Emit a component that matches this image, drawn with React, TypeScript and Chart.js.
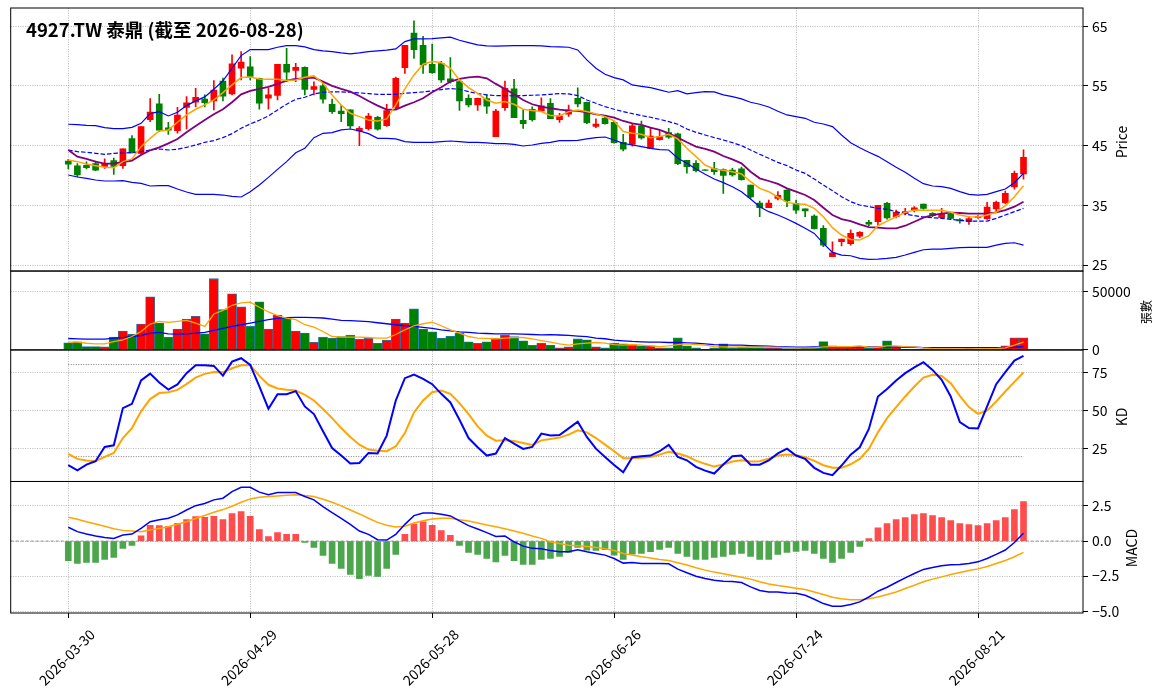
import { useEffect, useRef } from 'react';
import { Chart, registerables } from 'chart.js';

Chart.register(...registerables);

const FONT = '"Noto Sans CJK TC", "Noto Sans CJK SC", "Noto Sans", sans-serif';

// ---- categories (trading days) ----
const START_DATE = '2026-03-30';
const HOLIDAYS = ['2026-04-03', '2026-04-06', '2026-05-01', '2026-06-19'];
const N_BARS = 106;
function tradingDates(): string[] {
  const out: string[] = [];
  const d = new Date(START_DATE + 'T00:00:00Z');
  while (out.length < N_BARS) {
    const day = d.getUTCDay();
    const s = d.toISOString().slice(0, 10);
    if (day !== 0 && day !== 6 && !HOLIDAYS.includes(s)) out.push(s);
    d.setUTCDate(d.getUTCDate() + 1);
  }
  return out;
}
const DATES = tradingDates();
const TICK_EVERY = 20;

// ---- price ----
const OPEN = [
  42.4, 41.6, 41.7, 42.0, 41.5, 42.5, 41.65, 46.2, 43.7, 49.36,
  52.0, 48.0, 47.5, 51.4, 52.26, 52.8, 52.5, 55.8, 53.66, 57.96,
  58.2, 56.28, 52.93, 53.4, 58.63, 57.6, 58.1, 54.4, 55.0, 51.9,
  50.8, 51.0, 47.46, 47.85, 49.75, 48.35, 51.37, 58.07, 63.83, 61.8,
  58.6, 58.74, 56.2, 55.73, 52.93, 51.8, 52.9, 46.5, 51.37, 54.5,
  49.25, 51.1, 50.8, 52.1, 49.36, 50.25, 52.93, 52.26, 48.2, 49.6,
  48.9, 45.56, 45.22, 48.3, 44.55, 46.0, 47.2, 46.96, 42.54, 42.04,
  40.95, 41.15, 41.0, 40.9, 41.1, 38.4, 35.4, 34.6, 36.17, 37.57,
  35.34, 34.4, 33.2, 31.15, 26.4, 28.9, 28.6, 29.86, 32.15, 32.26,
  35.34, 33.1, 33.6, 34.2, 35.2, 33.66, 32.93, 33.5, 32.6, 32.26,
  32.95, 32.77, 34.4, 35.45, 38.1, 40.25,
];
const HIGH = [
  42.7, 42.0, 42.3, 42.4, 42.8, 42.9, 44.45, 46.7, 48.2, 52.9,
  53.6, 48.9, 51.4, 53.2, 54.6, 53.5, 55.9, 56.3, 60.2, 60.75,
  59.9, 56.3, 54.6, 58.6, 61.3, 58.8, 58.2, 55.7, 55.7, 52.8,
  51.7, 51.0, 48.2, 50.4, 49.9, 51.9, 56.5, 61.8, 65.9, 63.3,
  62.0, 59.1, 59.75, 56.0, 53.5, 52.95, 53.5, 51.1, 55.8, 56.1,
  51.1, 51.5, 53.0, 52.9, 50.4, 51.8, 54.7, 52.3, 49.5, 49.9,
  49.1, 46.9, 48.7, 49.1, 47.9, 47.6, 47.9, 47.1, 42.54, 42.5,
  40.95, 42.2, 41.1, 41.2, 41.4, 38.4, 35.7, 35.9, 37.3, 37.6,
  35.9, 34.4, 33.4, 31.6, 28.9, 29.36, 30.9, 30.6, 32.5, 35.0,
  35.5, 34.2, 34.5, 34.8, 35.2, 33.8, 34.5, 33.66, 32.8, 33.1,
  33.3, 35.5, 35.7, 37.4, 40.75, 44.3,
];
const LOW = [
  41.1, 39.8, 41.1, 40.8, 41.2, 40.2, 41.2, 43.8, 43.5, 49.0,
  47.35, 46.9, 47.1, 47.8, 51.5, 51.5, 51.0, 52.5, 53.5, 56.0,
  56.0, 51.1, 51.1, 52.65, 55.7, 55.7, 53.5, 53.5, 52.1, 50.4,
  49.0, 47.9, 45.0, 47.6, 47.6, 48.2, 51.1, 57.1, 59.6, 57.1,
  57.1, 55.6, 55.45, 50.9, 51.5, 50.9, 50.4, 46.5, 50.9, 49.7,
  47.9, 49.1, 50.7, 49.5, 48.9, 49.9, 51.5, 48.7, 48.0, 48.6,
  45.4, 44.1, 44.9, 46.1, 44.55, 45.9, 46.2, 41.8, 40.4, 40.6,
  40.85, 40.2, 37.0, 39.9, 39.2, 36.2, 33.1, 34.6, 35.9, 34.8,
  33.66, 33.1, 31.0, 28.1, 26.4, 28.2, 28.35, 29.6, 31.6, 31.6,
  32.7, 32.9, 33.4, 33.9, 34.3, 33.1, 32.8, 32.7, 32.0, 31.8,
  32.8, 32.65, 33.9, 35.3, 37.7, 39.4,
];
const CLOSE = [
  41.9, 40.1, 41.3, 40.9, 42.0, 41.5, 44.45, 43.8, 48.2, 50.64,
  47.6, 47.6, 50.1, 52.15, 53.1, 52.2, 54.3, 53.3, 58.7, 59.0,
  56.6, 52.1, 53.49, 58.6, 57.3, 58.1, 54.4, 54.9, 52.77, 50.7,
  50.36, 48.3, 47.9, 49.97, 47.74, 50.87, 56.28, 61.8, 61.09, 58.5,
  57.2, 56.0, 55.7, 52.49, 51.8, 52.93, 51.6, 50.8, 54.6, 49.7,
  48.7, 49.36, 51.65, 49.5, 49.97, 51.0, 51.98, 48.85, 48.6, 48.7,
  45.5, 44.4, 48.3, 46.3, 46.6, 46.5, 46.4, 41.98, 41.48, 40.8,
  40.85, 40.65, 40.0, 40.1, 39.3, 36.4, 34.6, 35.4, 36.68, 35.73,
  34.2, 34.05, 31.1, 28.35, 27.07, 29.36, 30.3, 30.47, 31.87, 35.0,
  32.9, 33.83, 33.94, 34.6, 34.5, 33.27, 33.5, 32.8, 32.4, 32.8,
  33.1, 34.7, 35.5, 37.0, 40.36, 43.04,
];
const MA5 = [
  42.60, 42.32, 41.93, 41.65, 41.37, 41.31, 42.32, 42.77, 44.83, 46.23,
  47.46, 47.63, 48.91, 50.14, 51.09, 51.82, 52.65, 53.88, 55.17, 56.40,
  56.51, 56.17, 56.12, 56.12, 55.89, 56.01, 56.45, 56.68, 55.45, 53.49,
  51.82, 50.42, 49.86, 49.30, 49.13, 49.47, 51.82, 54.50, 56.84, 58.63,
  59.08, 58.91, 57.96, 56.01, 54.72, 53.77, 52.65, 52.09, 52.37, 51.93,
  51.09, 50.87, 50.70, 50.03, 49.97, 50.70, 50.98, 50.70, 50.31, 49.86,
  49.13, 47.35, 47.07, 46.90, 46.34, 46.51, 46.90, 46.12, 44.55, 43.16,
  41.76, 41.09, 40.87, 40.64, 40.25, 38.97, 37.85, 37.29, 36.40, 35.50,
  35.28, 35.17, 34.50, 33.10, 31.26, 30.03, 29.30, 29.19, 29.92, 31.59,
  32.37, 33.10, 33.83, 34.22, 34.16, 34.16, 34.16, 33.83, 33.38, 33.10,
  33.04, 33.38, 33.83, 34.94, 36.45, 38.30,
];
const MA10 = [
  44.27, 43.16, 42.77, 42.32, 41.98, 41.98, 42.26, 42.49, 43.44, 44.22,
  44.72, 45.39, 46.12, 47.23, 48.30, 49.30, 50.25, 51.09, 52.26, 53.60,
  54.16, 54.50, 54.83, 55.34, 55.89, 56.17, 56.28, 56.40, 55.73, 55.00,
  54.50, 54.05, 53.32, 52.49, 51.70, 51.03, 51.03, 51.70, 52.26, 52.93,
  53.94, 54.78, 55.73, 56.17, 56.45, 56.56, 56.28, 55.34, 54.50, 53.60,
  52.65, 51.93, 51.54, 51.26, 51.03, 50.87, 50.81, 50.59, 50.25, 50.03,
  49.69, 49.13, 48.74, 48.46, 48.02, 47.63, 47.07, 46.34, 45.56, 44.83,
  44.44, 43.99, 43.27, 42.71, 42.04, 40.64, 39.53, 39.08, 38.60, 37.85,
  37.29, 36.73, 35.89, 34.61, 33.38, 32.71, 32.37, 31.82, 31.37, 31.26,
  31.15, 31.15, 31.59, 32.26, 32.93, 33.38, 33.60, 33.77, 33.72, 33.60,
  33.60, 33.60, 33.83, 34.22, 34.78, 35.61,
];
const BB_UP = [
  48.58, 48.52, 48.41, 48.35, 48.02, 47.85, 47.85, 48.07, 48.74, 50.36,
  50.70, 49.97, 50.59, 51.70, 52.49, 53.16, 54.44, 55.84, 57.96, 60.08,
  61.09, 61.09, 61.09, 61.48, 61.76, 61.76, 61.54, 61.09, 60.87, 60.75,
  60.53, 60.36, 60.53, 60.75, 60.87, 60.98, 61.20, 62.43, 62.88, 62.88,
  62.93, 63.04, 63.16, 62.65, 62.26, 61.87, 61.70, 61.65, 61.70, 61.76,
  61.76, 61.76, 61.70, 61.59, 61.54, 61.48, 61.03, 59.36, 57.96, 56.96,
  56.40, 56.01, 55.17, 54.94, 54.72, 54.33, 53.94, 54.22, 53.66, 53.88,
  54.05, 53.99, 53.49, 53.21, 52.82, 52.26, 51.93, 51.48, 50.75, 50.14,
  49.86, 49.58, 48.91, 48.63, 48.18, 46.79, 45.50, 44.66, 43.88, 43.21,
  42.32, 41.37, 40.53, 39.53, 38.63, 38.24, 38.13, 37.85, 37.29, 36.84,
  36.73, 36.84, 37.29, 37.74, 38.80, 40.36,
];
const BB_MID = [
  44.27, 43.99, 43.88, 43.72, 43.55, 43.72, 43.77, 43.83, 43.99, 44.27,
  44.44, 44.27, 44.39, 44.72, 45.11, 45.56, 45.84, 46.34, 47.01, 47.91,
  48.63, 49.25, 49.97, 50.98, 51.93, 52.77, 53.10, 53.66, 53.94, 53.99,
  53.99, 53.94, 53.83, 53.72, 53.60, 53.60, 53.60, 53.77, 53.88, 53.99,
  54.16, 54.39, 54.55, 54.44, 54.05, 53.72, 53.49, 53.38, 53.38, 53.32,
  53.38, 53.44, 53.49, 53.60, 53.72, 53.66, 53.38, 52.65, 52.09, 51.54,
  51.09, 50.70, 50.36, 50.03, 49.75, 49.41, 49.02, 48.58, 47.79, 47.23,
  46.79, 46.34, 45.95, 45.50, 45.00, 44.27, 43.55, 42.88, 42.20, 41.65,
  40.92, 40.36, 39.41, 38.41, 37.46, 36.45, 35.61, 35.06, 34.78, 34.50,
  34.33, 33.94, 33.55, 33.27, 33.04, 32.93, 32.82, 32.65, 32.49, 32.37,
  32.37, 32.37, 32.82, 33.38, 33.94, 34.50,
];
const BB_LOW = [
  40.08, 39.75, 39.53, 39.25, 39.08, 39.08, 39.13, 38.85, 38.69, 38.24,
  38.30, 38.30, 37.74, 37.23, 36.84, 36.84, 36.84, 36.73, 36.51, 36.40,
  37.29, 38.41, 39.69, 41.03, 42.32, 43.80, 44.55, 46.34, 47.07, 47.18,
  47.63, 47.79, 47.46, 47.01, 46.23, 46.23, 46.12, 45.67, 45.56, 45.56,
  45.56, 45.67, 45.78, 45.67, 45.56, 45.56, 45.45, 45.34, 45.34, 45.22,
  44.94, 45.11, 45.39, 45.56, 45.84, 45.84, 45.89, 46.12, 46.34, 46.45,
  45.95, 45.39, 45.11, 44.83, 44.55, 44.33, 44.27, 42.88, 42.04, 41.09,
  40.20, 39.41, 38.80, 38.13, 37.29, 36.06, 34.78, 33.94, 33.38, 32.71,
  31.98, 31.15, 30.31, 28.63, 27.12, 26.68, 26.56, 26.12, 25.95, 26.01,
  26.12, 26.28, 26.68, 27.12, 27.57, 27.68, 27.68, 27.79, 27.91, 27.96,
  27.96, 27.96, 28.35, 28.63, 28.74, 28.35,
];

// ---- volume (張) ----
const VOLUME = [
  6070, 6940, 2890, 2890, 2600, 10980, 16180, 13580, 22250, 45660,
  23120, 10980, 17920, 26590, 28900, 13870, 61270, 34680, 48260, 36990,
  20230, 41330, 17920, 30060, 27460, 16180, 14450, 6650, 10980, 10120,
  11560, 12720, 9250, 10120, 5780, 8380, 26590, 23120, 35260, 17920,
  15610, 10120, 11850, 14450, 6940, 5780, 6940, 10120, 12720, 11560,
  7800, 4050, 5780, 4090, 1750, 2630, 9640, 8760, 2630, 1750,
  5840, 5260, 4090, 3500, 3500, 1750, 1750, 10510, 3500, 1750,
  600, 1750, 5260, 1750, 2340, 2920, 2920, 1750, 1750, 1170,
  1170, 1750, 2340, 7300, 3500, 2340, 2340, 2340, 1750, 2340,
  7880, 2340, 580, 580, 580, 580, 580, 580, 580, 1170,
  580, 1170, 1170, 3500, 10510, 10510,
];
const VOL_MA5 = [
  6650, 6650, 5780, 5200, 5200, 7230, 8670, 11560, 15900, 22250,
  24570, 23700, 24570, 25430, 23120, 20230, 30920, 34100, 38440, 40460,
  41040, 36700, 32660, 29480, 27460, 26010, 21680, 19650, 15900, 11560,
  10980, 10980, 10980, 10690, 10120, 10120, 13290, 17340, 20810, 22540,
  23990, 20810, 17340, 14450, 11560, 10120, 9830, 9540, 10120, 10690,
  10690, 9540, 8090, 6720, 5260, 4090, 5260, 5840, 6420, 5840,
  4670, 4090, 4670, 4090, 3500, 2920, 3500, 4670, 5260, 4670,
  4090, 2920, 2630, 2340, 2630, 2340, 2340, 2340, 2340, 2040,
  1750, 1750, 1750, 2630, 2920, 2920, 2920, 3500, 2340, 2340,
  3500, 3500, 2920, 2630, 1750, 1170, 880, 880, 880, 880,
  880, 1170, 1170, 1750, 4090, 6720,
];
const VOL_MA20 = [
  9830, 9540, 9250, 9250, 9250, 10120, 10690, 11560, 12430, 14450,
  15030, 13870, 13580, 13870, 14450, 15030, 16760, 18500, 20230, 21680,
  23120, 24570, 26010, 27170, 27740, 28030, 28030, 27740, 27460, 26590,
  25430, 25140, 24850, 24280, 23410, 22540, 21680, 20810, 20230, 19360,
  18500, 17340, 16470, 15610, 15030, 14450, 14160, 13870, 13870, 13870,
  13580, 13290, 13000, 13140, 12850, 12560, 11970, 11390, 10220, 9640,
  8470, 7880, 7300, 7010, 6720, 6720, 6420, 6420, 6130, 5840,
  5260, 4670, 4380, 4090, 4090, 3800, 3500, 3210, 2920, 2630,
  2340, 2340, 2630, 2630, 2630, 2630, 2630, 2630, 2630, 2630,
  2630, 2630, 2340, 2340, 2040, 2040, 2040, 2040, 2040, 2040,
  2040, 2040, 2040, 2040, 2340, 2920,
];

// ---- KD ----
const K_LINE = [
  14.4, 11.1, 14.8, 17.0, 26.3, 27.4, 51.6, 54.4, 69.6, 74.1,
  68.3, 63.7, 67.0, 74.4, 79.5, 79.5, 79.1, 72.8, 81.9, 84.1,
  79.8, 65.7, 51.2, 60.7, 60.7, 62.7, 52.7, 47.7, 36.5, 25.6,
  20.7, 15.5, 15.9, 22.4, 22.0, 33.7, 56.6, 71.1, 73.5, 70.7,
  67.2, 60.9, 55.3, 44.0, 32.1, 26.1, 20.7, 22.0, 32.1, 28.5,
  25.0, 26.3, 35.0, 33.7, 34.1, 38.4, 42.7, 32.8, 25.2, 19.8,
  14.6, 9.8, 19.6, 20.2, 20.7, 23.5, 27.6, 19.8, 17.6, 13.3,
  10.9, 9.0, 14.8, 20.2, 20.7, 14.7, 14.7, 17.6, 22.1, 25.2,
  20.7, 18.5, 12.7, 9.4, 7.9, 14.2, 21.3, 26.1, 38.0, 59.2,
  64.0, 69.6, 74.4, 78.2, 81.5, 76.5, 70.0, 59.2, 42.5, 38.6,
  38.4, 52.7, 67.2, 75.0, 82.6, 85.6,
];
const D_LINE = [
  21.8, 18.5, 17.4, 17.0, 19.8, 22.4, 32.1, 38.6, 49.5, 57.5,
  61.4, 62.0, 63.5, 67.2, 71.5, 73.9, 75.2, 75.0, 77.6, 79.5,
  79.5, 72.6, 66.8, 64.4, 63.5, 63.1, 60.3, 56.6, 51.0, 45.1,
  38.6, 32.8, 27.8, 24.6, 23.9, 23.5, 26.7, 35.4, 48.8, 56.6,
  62.0, 63.1, 60.9, 54.9, 47.7, 39.7, 33.7, 30.4, 30.6, 30.2,
  28.9, 27.6, 30.6, 31.5, 32.4, 34.3, 37.1, 35.8, 32.1, 27.8,
  23.5, 19.0, 19.0, 19.2, 19.8, 21.3, 23.1, 22.0, 20.2, 17.4,
  15.3, 13.5, 14.8, 16.8, 17.6, 16.8, 17.0, 18.7, 20.7, 21.3,
  20.9, 19.6, 17.2, 14.4, 12.7, 12.7, 15.0, 18.5, 25.0, 35.8,
  45.1, 52.3, 59.2, 65.7, 71.5, 73.3, 72.6, 67.9, 59.6, 52.3,
  47.9, 49.9, 55.9, 62.4, 68.7, 74.8,
];
const KD_LEVELS = [80, 20];

// ---- MACD ----
const DIF = [
  0.98, 0.67, 0.50, 0.36, 0.26, 0.19, 0.43, 0.50, 0.90, 1.38,
  1.52, 1.62, 1.86, 2.21, 2.52, 2.67, 2.93, 3.05, 3.52, 3.83,
  3.83, 3.48, 3.29, 3.45, 3.45, 3.45, 3.17, 2.93, 2.45, 2.02,
  1.62, 1.19, 0.71, 0.48, 0.10, 0.07, 0.48, 1.19, 1.81, 2.00,
  2.00, 1.90, 1.79, 1.43, 1.10, 0.86, 0.60, 0.33, 0.36, -0.05,
  -0.36, -0.52, -0.55, -0.68, -0.76, -0.76, -0.62, -0.76, -0.88, -1.00,
  -1.24, -1.57, -1.52, -1.60, -1.60, -1.60, -1.62, -2.00, -2.26, -2.50,
  -2.67, -2.79, -2.86, -2.88, -2.95, -3.26, -3.52, -3.62, -3.62, -3.69,
  -3.71, -3.86, -4.14, -4.45, -4.64, -4.64, -4.52, -4.33, -3.98, -3.57,
  -3.29, -2.95, -2.62, -2.31, -2.02, -1.88, -1.76, -1.69, -1.67, -1.60,
  -1.48, -1.24, -0.95, -0.64, -0.10, 0.55,
];
const DEA = [
  1.69, 1.55, 1.38, 1.21, 1.05, 0.88, 0.76, 0.71, 0.67, 0.79,
  0.90, 1.02, 1.19, 1.38, 1.60, 1.82, 2.05, 2.24, 2.48, 2.76,
  3.00, 3.12, 3.17, 3.21, 3.26, 3.29, 3.24, 3.17, 2.98, 2.76,
  2.50, 2.21, 1.93, 1.62, 1.33, 1.12, 1.00, 1.05, 1.29, 1.45,
  1.57, 1.62, 1.62, 1.52, 1.43, 1.29, 1.14, 1.02, 0.88, 0.71,
  0.55, 0.36, 0.19, -0.05, -0.18, -0.29, -0.33, -0.38, -0.45, -0.55,
  -0.67, -0.88, -1.00, -1.12, -1.21, -1.31, -1.38, -1.55, -1.71, -1.90,
  -2.07, -2.21, -2.33, -2.45, -2.57, -2.71, -2.90, -3.05, -3.17, -3.26,
  -3.36, -3.45, -3.62, -3.81, -4.00, -4.10, -4.17, -4.17, -4.10, -3.98,
  -3.81, -3.62, -3.38, -3.14, -2.90, -2.71, -2.55, -2.38, -2.24, -2.10,
  -1.98, -1.81, -1.60, -1.38, -1.12, -0.81,
];
const HIST = [
  -1.40, -1.60, -1.52, -1.52, -1.31, -1.17, -0.52, -0.31, 0.38, 1.12,
  1.10, 1.05, 1.26, 1.52, 1.74, 1.69, 1.76, 1.52, 1.95, 2.10,
  1.76, 0.81, 0.31, 0.60, 0.48, 0.48, -0.10, -0.45, -1.02, -1.60,
  -1.95, -2.38, -2.67, -2.45, -2.52, -1.95, -0.95, 0.48, 1.21, 1.36,
  1.12, 0.74, 0.40, -0.31, -0.81, -0.95, -1.24, -1.48, -1.02, -1.40,
  -1.67, -1.67, -1.31, -1.24, -1.10, -0.81, -0.45, -0.64, -0.67, -0.62,
  -1.00, -1.31, -0.93, -0.88, -0.76, -0.60, -0.45, -0.88, -1.10, -1.31,
  -1.31, -1.17, -1.10, -0.95, -0.88, -1.10, -1.31, -1.31, -0.95, -0.81,
  -0.74, -0.67, -0.88, -1.24, -1.52, -1.24, -0.81, -0.38, 0.17, 0.95,
  1.24, 1.52, 1.67, 1.88, 1.95, 1.81, 1.67, 1.45, 1.24, 1.17,
  1.10, 1.24, 1.45, 1.67, 2.24, 2.81,
];

// ---- axis ticks ----
const PRICE_TICKS = [25, 30, 35, 40, 45, 50, 55, 60, 65];
const VOL_TICKS = [0, 50000];
const KD_TICKS = [25, 50, 75];
const MACD_TICKS = [-5, -2.5, 0, 2.5];

const TITLE = `4927.TW 泰鼎 (截至 ${DATES[DATES.length - 1]})`;

// ---- layout / style ----
const W = 1163;
const H = 698;
const X_MIN = -6.33;
const X_MAX = 111.54;
const RED = '#ff0000';
const GREEN = '#008000';
const BLUE = '#0000ff';
const ORANGE = '#ffa500';
const PURPLE = '#800080';
const GRID = 'rgba(150,150,150,0.85)';

export default function App() {
  const canvasRef = useRef<HTMLCanvasElement | null>(null);

  useEffect(() => {
    const canvas = canvasRef.current;
    if (!canvas) return;
    const idx = DATES.map((_, i) => i);
    const pts = (arr: number[]) => arr.map((y, i) => ({ x: idx[i], y }));
    const up = CLOSE.map((c, i) => c >= OPEN[i]);
    const candleColor = up.map((u) => (u ? RED : GREEN));
    const last = idx[idx.length - 1];

    const line = (data: number[], color: string, width: number, yAxisID: string, dash: number[] = []) => ({
      type: 'line' as const,
      data: pts(data),
      yAxisID,
      xAxisID: 'x',
      borderColor: color,
      borderWidth: width,
      borderDash: dash,
      pointRadius: 0,
      fill: false,
      tension: 0,
    });

    const yAxis = (ticks: number[], weight: number, min: number, max: number, fmt: (v: number) => string) => ({
      type: 'linear' as const,
      position: 'right' as const,
      stack: 'panes',
      stackWeight: weight,
      min,
      max,
      offset: false,
      afterBuildTicks: (s: any) => {
        s.ticks = ticks.map((v) => ({ value: v }));
      },
      afterFit: (s: any) => {
        s.width = 80;
        s.paddingTop = 0;
        s.paddingBottom = 0;
      },
      ticks: {
        callback: (v: any) => fmt(Number(v)),
        color: '#000',
        padding: 4,
        font: { family: FONT, size: 14 },
      },
      grid: {
        color: GRID,
        lineWidth: 0.8,
        tickColor: '#000',
        tickLength: 5,
        tickWidth: 1,
        tickBorderDash: [],
        offset: false,
      },
      border: { display: false, dash: [1, 1.4] },
    });

    const framePlugin = {
      id: 'paneFrames',
      afterDraw(chart: any) {
        const { ctx, chartArea } = chart;
        ctx.save();
        ctx.setLineDash([]);
        ctx.strokeStyle = '#000';
        ctx.lineWidth = 1;
        for (const id of ['yP', 'yV', 'yK', 'yM']) {
          const s = chart.scales[id];
          ctx.strokeRect(chartArea.left, s.top, chartArea.right - chartArea.left, s.bottom - s.top);
        }
        ctx.restore();
      },
    };

    const chart = new Chart(canvas, {
      type: 'line',
      data: {
        datasets: [
          // price pane
          line(MA5, ORANGE, 1.5, 'yP'),
          line(MA10, PURPLE, 1.8, 'yP'),
          line(BB_UP, BLUE, 1.2, 'yP'),
          line(BB_MID, BLUE, 1.2, 'yP', [4.5, 2]),
          line(BB_LOW, BLUE, 1.2, 'yP'),
          {
            type: 'bar',
            yAxisID: 'yP',
            xAxisID: 'x',
            data: idx.map((i) => ({ x: i, y: [Math.min(OPEN[i], CLOSE[i]), Math.max(OPEN[i], CLOSE[i])] })) as any,
            backgroundColor: candleColor,
            borderWidth: 0,
            barThickness: 6,
            grouped: false,
          },
          {
            type: 'bar',
            yAxisID: 'yP',
            xAxisID: 'x',
            data: idx.map((i) => ({ x: i, y: [LOW[i], HIGH[i]] })) as any,
            backgroundColor: candleColor,
            borderWidth: 0,
            barThickness: 1,
            grouped: false,
          },
          // volume pane
          line(VOL_MA5, ORANGE, 1.3, 'yV'),
          line(VOL_MA20, BLUE, 1.3, 'yV'),
          {
            type: 'bar',
            yAxisID: 'yV',
            xAxisID: 'x',
            data: pts(VOLUME) as any,
            backgroundColor: candleColor,
            borderColor: '#1f77b4',
            borderWidth: 0.8,
            barPercentage: 1,
            categoryPercentage: 1,
            grouped: false,
          },
          // KD pane
          line(K_LINE, BLUE, 2, 'yK'),
          line(D_LINE, ORANGE, 2, 'yK'),
          ...KD_LEVELS.map((lv) => ({
            type: 'line' as const,
            yAxisID: 'yK',
            xAxisID: 'x',
            data: [
              { x: idx[0], y: lv },
              { x: last, y: lv },
            ],
            borderColor: 'rgba(110,110,110,0.9)',
            borderWidth: 1,
            borderDash: [1, 1.5],
            pointRadius: 0,
          })),
          // MACD pane
          line(DIF, BLUE, 1.5, 'yM'),
          line(DEA, ORANGE, 1.5, 'yM'),
          {
            type: 'line',
            yAxisID: 'yM',
            xAxisID: 'x',
            data: [
              { x: X_MIN, y: 0 },
              { x: X_MAX, y: 0 },
            ],
            borderColor: 'rgba(128,128,128,0.9)',
            borderWidth: 0.9,
            borderDash: [3, 2],
            pointRadius: 0,
          },
          {
            type: 'bar',
            yAxisID: 'yM',
            xAxisID: 'x',
            data: pts(HIST) as any,
            backgroundColor: HIST.map((v) => (v >= 0 ? 'rgba(255,0,0,0.7)' : 'rgba(0,128,0,0.7)')),
            borderWidth: 0,
            barThickness: 6,
            grouped: false,
          },
        ] as any,
      },
      options: {
        responsive: false,
        animation: false,
        events: [],
        layout: { padding: { left: 10.7, right: 0, top: 8, bottom: 0 } },
        plugins: { legend: { display: false }, tooltip: { enabled: false } },
        scales: {
          x: {
            type: 'linear',
            position: 'bottom',
            min: X_MIN,
            max: X_MAX,
            offset: false,
            afterBuildTicks: (s: any) => {
              s.ticks = idx.filter((i) => i % TICK_EVERY === 0).map((v) => ({ value: v }));
            },
            afterFit: (s: any) => {
              s.height = 85;
              s.paddingLeft = 0;
              s.paddingRight = 0;
            },
            ticks: {
              autoSkip: false,
              minRotation: 45,
              maxRotation: 45,
              labelOffset: 24,
              padding: 8,
              color: '#000',
              font: { family: FONT, size: 14 },
              callback: (v: any) => DATES[Number(v)] ?? '',
            },
            grid: {
              color: GRID,
              lineWidth: 0.8,
              tickColor: '#000',
              tickLength: 5,
              tickWidth: 1,
              tickBorderDash: [],
              offset: false,
            },
            border: { display: false, dash: [1, 1.4] },
          },
          yP: yAxis(PRICE_TICKS, 4, 24.0, 68.05, (v) => String(v)),
          yV: yAxis(VOL_TICKS, 1.2, 0, 67850, (v) => String(v)),
          yK: yAxis(KD_TICKS, 2, 3.8, 89.5, (v) => String(v)),
          yM: yAxis(MACD_TICKS, 2, -5.12, 4.24, (v) => v.toFixed(1).replace('-', '\u2212')),
        } as any,
      },
      plugins: [framePlugin],
    } as any);

    return () => chart.destroy();
  }, []);

  const axisTitle = (text: string, cx: number, cy: number, size: number) => (
    <div
      style={{
        position: 'absolute',
        left: cx,
        top: cy,
        transform: 'translate(-50%, -50%) rotate(-90deg)',
        fontFamily: FONT,
        fontSize: size,
        lineHeight: 1,
        whiteSpace: 'nowrap',
        color: '#000',
      }}
    >
      {text}
    </div>
  );

  return (
    <div style={{ position: 'absolute', left: 0, top: 0, width: W, height: H, background: '#fff', overflow: 'hidden' }}>
      <canvas ref={canvasRef} width={W} height={H} style={{ display: 'block', width: W, height: H }} />
      <div
        style={{
          position: 'absolute',
          left: 26,
          top: 19.5,
          fontFamily: FONT,
          fontWeight: 700,
          fontSize: 18.5,
          lineHeight: 1,
          whiteSpace: 'nowrap',
          color: '#000',
        }}
      >
        {TITLE}
      </div>
      {axisTitle('Price', 1121, 142, 14)}
      {axisTitle('張數', 1146, 312, 12)}
      {axisTitle('KD', 1121, 417, 14)}
      {axisTitle('MACD', 1131, 548, 14)}
    </div>
  );
}
